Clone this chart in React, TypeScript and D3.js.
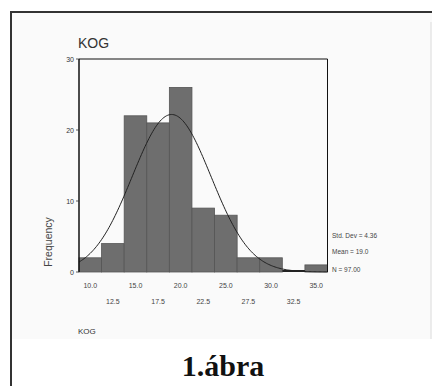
import React from "react";
import * as d3 from "d3";

const binCenters = [10, 12.5, 15, 17.5, 20, 22.5, 25, 27.5, 30, 32.5, 35];
const frequencies = [2, 4, 22, 21, 26, 9, 8, 2, 2, 0, 1];
const yTicks = [0, 10, 20, 30];
const xTicksRow1 = [10, 15, 20, 25, 30, 35];
const xTicksRow2 = [12.5, 17.5, 22.5, 27.5, 32.5];
const stdDev = 4.36;
const mean = 19.0;
const nCount = 97;
const binWidth = 2.5;

export default function App() {
  const W = 432, H = 386;
  const x = d3.scaleLinear().domain([8.75, 36.25]).range([79, 327.5]);
  const y = d3.scaleLinear().domain([0, 30]).range([272, 59]);
  const font = "'Liberation Sans', Arial, sans-serif";

  const pdf = (v: number) =>
    (nCount * binWidth) / (stdDev * Math.sqrt(2 * Math.PI)) *
    Math.exp(-((v - mean) ** 2) / (2 * stdDev * stdDev));
  const curvePts = d3.range(200).map((i) => {
    const v = 8.75 + (i / 199) * (36.25 - 8.75);
    return [v, pdf(v)] as [number, number];
  });
  const line = d3.line<[number, number]>().x((d) => x(d[0])).y((d) => y(d[1])).curve(d3.curveBasis);

  return (
    <svg width={W} height={H} style={{ position: "absolute", left: 0, top: 0, background: "#fff" }}>
      <rect x={12} y={13} width={420} height={326} fill="#fafafa" />
      <line x1={10} y1={12} x2={432} y2={12} stroke="#333" strokeWidth={2} />
      <line x1={11} y1={11} x2={11} y2={386} stroke="#333" strokeWidth={2} />
      <line x1={431} y1={22} x2={431} y2={339} stroke="#ddd" strokeWidth={1} />

      <text x={78} y={48} fontFamily={font} fontSize={14} fill="#333">KOG</text>

      {binCenters.map((c, i) => (
        <rect key={c}
          x={x(c - binWidth / 2)}
          y={y(frequencies[i])}
          width={x(c + binWidth / 2) - x(c - binWidth / 2)}
          height={Math.max(0, y(0) - y(frequencies[i]))}
          fill="#6e6e6e" stroke="#555" strokeWidth={0.8} />
      ))}
      <line x1={x(31.25)} y1={y(0) - 1} x2={x(33.75)} y2={y(0) - 1} stroke="#222" strokeWidth={2} />

      <path d={line(curvePts) || ""} fill="none" stroke="#222" strokeWidth={1} />

      <line x1={x(8.75)} y1={y(30)} x2={x(36.25)} y2={y(30)} stroke="#111" strokeWidth={1} />
      <line x1={x(8.75)} y1={y(30)} x2={x(8.75)} y2={y(0)} stroke="#111" strokeWidth={1.5} />
      <line x1={x(36.25)} y1={y(30)} x2={x(36.25)} y2={y(0)} stroke="#111" strokeWidth={1} />

      {yTicks.map((t) => (
        <g key={t}>
          <line x1={x(8.75) - 3} x2={x(8.75)} y1={y(t)} y2={y(t)} stroke="#333" strokeWidth={0.8} />
          <text x={x(8.75) - 5} y={y(t) + 2.5} textAnchor="end" fontFamily={font} fontSize={7} fill="#333">{t}</text>
        </g>
      ))}
      <text transform={`translate(52,242) rotate(-90)`} textAnchor="middle" fontFamily={font} fontSize={10.5} fill="#444">Frequency</text>

      {xTicksRow1.map((t) => (
        <text key={t} x={x(t)} y={288} textAnchor="middle" fontFamily={font} fontSize={7} fill="#444">{t.toFixed(1)}</text>
      ))}
      {xTicksRow2.map((t) => (
        <text key={t} x={x(t)} y={304} textAnchor="middle" fontFamily={font} fontSize={7} fill="#444">{t.toFixed(1)}</text>
      ))}
      <text x={78} y={334} fontFamily={font} fontSize={8} fill="#333">KOG</text>

      <text x={332} y={238} fontFamily={font} fontSize={6.5} fill="#444">Std. Dev = {stdDev.toFixed(2)}</text>
      <text x={332} y={254} fontFamily={font} fontSize={6.5} fill="#444">Mean = {mean.toFixed(1)}</text>
      <text x={332} y={272} fontFamily={font} fontSize={6.5} fill="#444">N = {nCount.toFixed(2)}</text>

      <text x={223} y={376} textAnchor="middle" fontFamily="'Liberation Serif', 'Times New Roman', serif" fontWeight="bold" fontSize={30} fill="#111">1.ábra</text>
    </svg>
  );
}
